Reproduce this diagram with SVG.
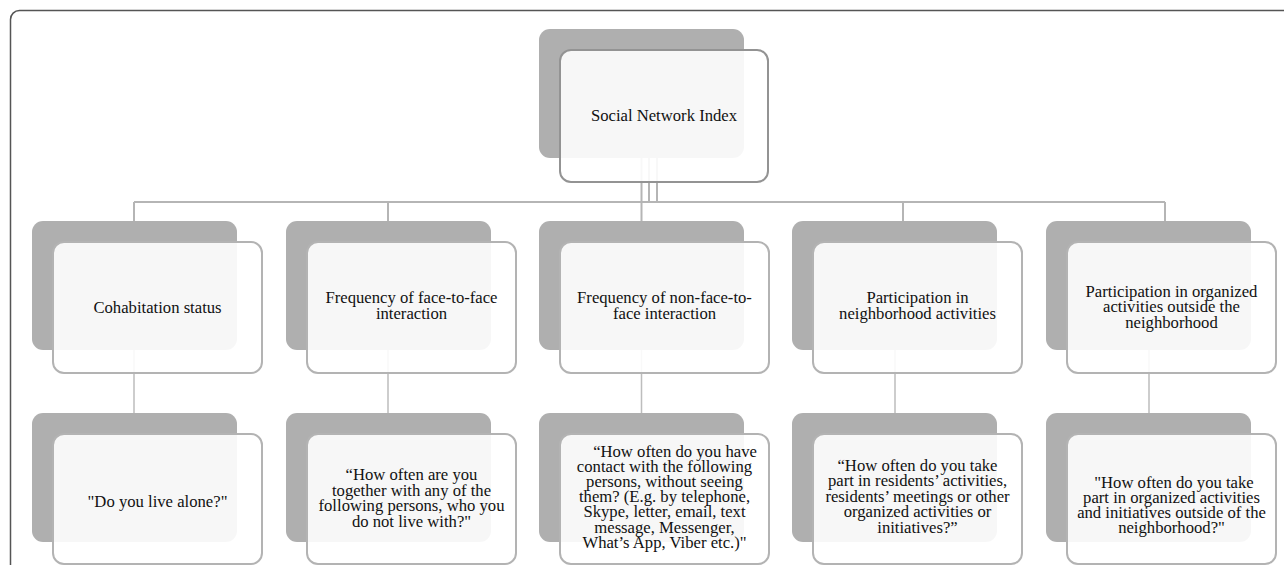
<svg xmlns="http://www.w3.org/2000/svg" width="1284" height="565" viewBox="0 0 1284 565">
<style>
.frame{fill:none;stroke:#555;stroke-width:1.5}
.sh{fill:#afafaf}
.bx{fill:#fff;fill-opacity:0.9;stroke:#b3b3b3;stroke-width:2}
.root{stroke:#939393}
.c{fill:none;stroke:#b5b5b5;stroke-width:2}
.c2{fill:none;stroke:#bdbdbd;stroke-width:1.5}
text{font-family:"Liberation Serif","Times New Roman",serif;font-size:16.67px;fill:#111;text-anchor:middle}
</style>
<rect width="1284" height="565" fill="#fff"/>
<rect class="frame" x="10.5" y="10.5" width="1300" height="600" rx="9"/>
<g id="connectors">
<path class="c" d="M641.5 158V221M649 158V202M657 158V202M134 202H1165M134 202V221M388 202V221M903 202V221M1165 202V221"/>
<path class="c2" d="M134 350V413M388 350V413M641.5 350V413M895 350V413M1149 350V413"/>
</g>
<g id="root">
<rect class="sh" x="539" y="29" width="205" height="129" rx="11"/>
<rect class="bx root" x="560" y="50" width="208" height="132" rx="11"/>
<text x="664" y="121">Social Network Index</text>
</g>
<g id="n1">
<rect class="sh" x="32" y="221" width="205" height="129" rx="11"/>
<rect class="bx" x="53" y="242" width="209" height="131" rx="11"/>
<text x="157.5" y="313">Cohabitation status</text>
</g>
<g id="n2">
<rect class="sh" x="286" y="221" width="205" height="129" rx="11"/>
<rect class="bx" x="307" y="242" width="209" height="131" rx="11"/>
<text x="411.5" y="303"><tspan x="411.5">Frequency of face-to-face</tspan><tspan x="411.5" dy="16">interaction</tspan></text>
</g>
<g id="n3">
<rect class="sh" x="539" y="221" width="205" height="129" rx="11"/>
<rect class="bx" x="560" y="242" width="209" height="131" rx="11"/>
<text x="664.5" y="303"><tspan x="664.5">Frequency of non-face-to-</tspan><tspan x="664.5" dy="16">face interaction</tspan></text>
</g>
<g id="n4">
<rect class="sh" x="792" y="221" width="205" height="129" rx="11"/>
<rect class="bx" x="813" y="242" width="209" height="131" rx="11"/>
<text x="917.5" y="303"><tspan x="917.5">Participation in</tspan><tspan x="917.5" dy="16">neighborhood activities</tspan></text>
</g>
<g id="n5">
<rect class="sh" x="1046" y="221" width="205" height="129" rx="11"/>
<rect class="bx" x="1067" y="242" width="209" height="131" rx="11"/>
<text x="1171.5" y="296.5"><tspan x="1171.5">Participation in organized</tspan><tspan x="1171.5" dy="15.5">activities outside the</tspan><tspan x="1171.5" dy="15.5">neighborhood</tspan></text>
</g>
<g id="q1">
<rect class="sh" x="32" y="413" width="205" height="129" rx="11"/>
<rect class="bx" x="53" y="434" width="209" height="130" rx="11"/>
<text x="157.5" y="506.5">"Do you live alone?"</text>
</g>
<g id="q2">
<rect class="sh" x="286" y="413" width="205" height="129" rx="11"/>
<rect class="bx" x="307" y="434" width="209" height="130" rx="11"/>
<text x="411.5" y="480"><tspan x="411.5">“How often are you</tspan><tspan x="411.5" dy="15.5">together with any of the</tspan><tspan x="411.5" dy="15.5">following persons, who you</tspan><tspan x="411.5" dy="15.5">do not live with?"</tspan></text>
</g>
<g id="q3">
<rect class="sh" x="539" y="413" width="205" height="129" rx="11"/>
<rect class="bx" x="560" y="434" width="209" height="130" rx="11"/>
<text x="664.5" y="456.5"><tspan x="675">“How often do you have</tspan><tspan x="664.5" dy="15.2">contact with the following</tspan><tspan x="664.5" dy="15.2">persons, without seeing</tspan><tspan x="664.5" dy="15.2">them? (E.g. by telephone,</tspan><tspan x="664.5" dy="15.2">Skype, letter, email, text</tspan><tspan x="664.5" dy="15.2">message, Messenger,</tspan><tspan x="664.5" dy="15.2">What’s App, Viber etc.)"</tspan></text>
</g>
<g id="q4">
<rect class="sh" x="792" y="413" width="205" height="129" rx="11"/>
<rect class="bx" x="813" y="434" width="209" height="130" rx="11"/>
<text x="917.5" y="470.5"><tspan x="917.5">“How often do you take</tspan><tspan x="917.5" dy="15.5">part in residents’ activities,</tspan><tspan x="917.5" dy="15.5">residents’ meetings or other</tspan><tspan x="917.5" dy="15.5">organized activities or</tspan><tspan x="917.5" dy="15.5">initiatives?”</tspan></text>
</g>
<g id="q5">
<rect class="sh" x="1046" y="413" width="205" height="129" rx="11"/>
<rect class="bx" x="1067" y="434" width="209" height="130" rx="11"/>
<text x="1171.5" y="488"><tspan x="1174">"How often do you take</tspan><tspan x="1171.5" dy="15">part in organized activities</tspan><tspan x="1171.5" dy="15">and initiatives outside of the</tspan><tspan x="1171.5" dy="15">neighborhood?"</tspan></text>
</g>
</svg>
